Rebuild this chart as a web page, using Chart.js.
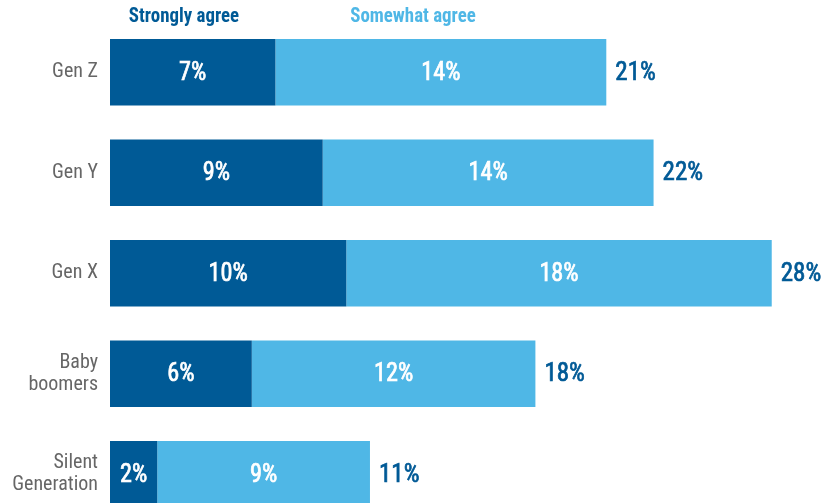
<!DOCTYPE html>
<html>
<head>
<meta charset="utf-8">
<script src="https://cdn.jsdelivr.net/npm/chart.js@4"></script>
<style>
html,body{margin:0;padding:0;overflow:hidden;background:#fff;width:828px;height:503px;}
canvas{display:block;}
</style>
</head>
<body>
<canvas id="c" width="828" height="540" style="width:828px;height:540px;"></canvas>
<script>
const categories = [["Gen Z"], ["Gen Y"], ["Gen X"], ["Baby", "boomers"], ["Silent", "Generation"]];
const seriesNames = ["Strongly agree", "Somewhat agree"];
const stronglyAgree = [7, 9, 10, 6, 2];
const somewhatAgree = [14, 14, 18, 12, 9];
const totalLabels = ["21%", "22%", "28%", "18%", "11%"];

const DARK = "#005A96";
const LIGHT = "#4FB7E6";
const FONT = "'Roboto Condensed', 'DejaVu Sans Condensed', sans-serif";

function condensedText(ctx, text, x, y, align, sx, stroke) {
  ctx.save();
  ctx.translate(x, y);
  ctx.scale(sx, 1);
  ctx.textAlign = align;
  ctx.fillText(text, 0, 0);
  if (stroke) {
    ctx.strokeStyle = ctx.fillStyle;
    ctx.lineWidth = stroke;
    ctx.strokeText(text, 0, 0);
  }
  ctx.restore();
}

const labelPlugin = {
  id: "labels",
  afterDatasetsDraw(chart) {
    const ctx = chart.ctx;
    ctx.save();
    ctx.textBaseline = "middle";
    chart.data.datasets.forEach((ds, di) => {
      const meta = chart.getDatasetMeta(di);
      meta.data.forEach((bar, i) => {
        ctx.fillStyle = "#fff";
        ctx.font = "25px " + FONT;
        condensedText(ctx, ds.data[i] + "%", (bar.base + bar.x) / 2, bar.y + 1, "center", 0.97, 0.7);
      });
    });
    const last = chart.getDatasetMeta(1);
    last.data.forEach((bar, i) => {
      ctx.fillStyle = DARK;
      ctx.font = "25px " + FONT;
      condensedText(ctx, totalLabels[i], bar.x + 9, bar.y + 1, "left", 1, 0.7);
    });
    ctx.font = "bold 21px " + FONT;
    ctx.fillStyle = DARK;
    condensedText(ctx, seriesNames[0], 184, 17, "center", 0.9, 0);
    ctx.fillStyle = LIGHT;
    condensedText(ctx, seriesNames[1], 413, 17, "center", 0.9, 0);
    ctx.restore();
  }
};

new Chart(document.getElementById("c"), {
  type: "bar",
  data: {
    labels: categories,
    datasets: [
      { label: seriesNames[0], data: stronglyAgree, backgroundColor: DARK, barPercentage: 0.664, categoryPercentage: 1 },
      { label: seriesNames[1], data: somewhatAgree, backgroundColor: LIGHT, barPercentage: 0.664, categoryPercentage: 1 }
    ]
  },
  options: {
    indexAxis: "y",
    responsive: false,
    animation: false,
    layout: { padding: { top: 22, bottom: 15.5, left: 0, right: 9 } },
    plugins: { legend: { display: false }, tooltip: { enabled: false } },
    scales: {
      x: { stacked: true, display: false, min: 0, max: 30 },
      y: {
        stacked: true,
        grid: { display: false, drawTicks: false },
        border: { display: false },
        ticks: { color: "#666", padding: 12, font: { family: FONT, size: 20, lineHeight: 1.1 } },
        afterFit(scale) { scale.width = 110; scale.paddingTop = 0; scale.paddingBottom = 0; }
      }
    }
  },
  plugins: [labelPlugin]
});
</script>
</body>
</html>
